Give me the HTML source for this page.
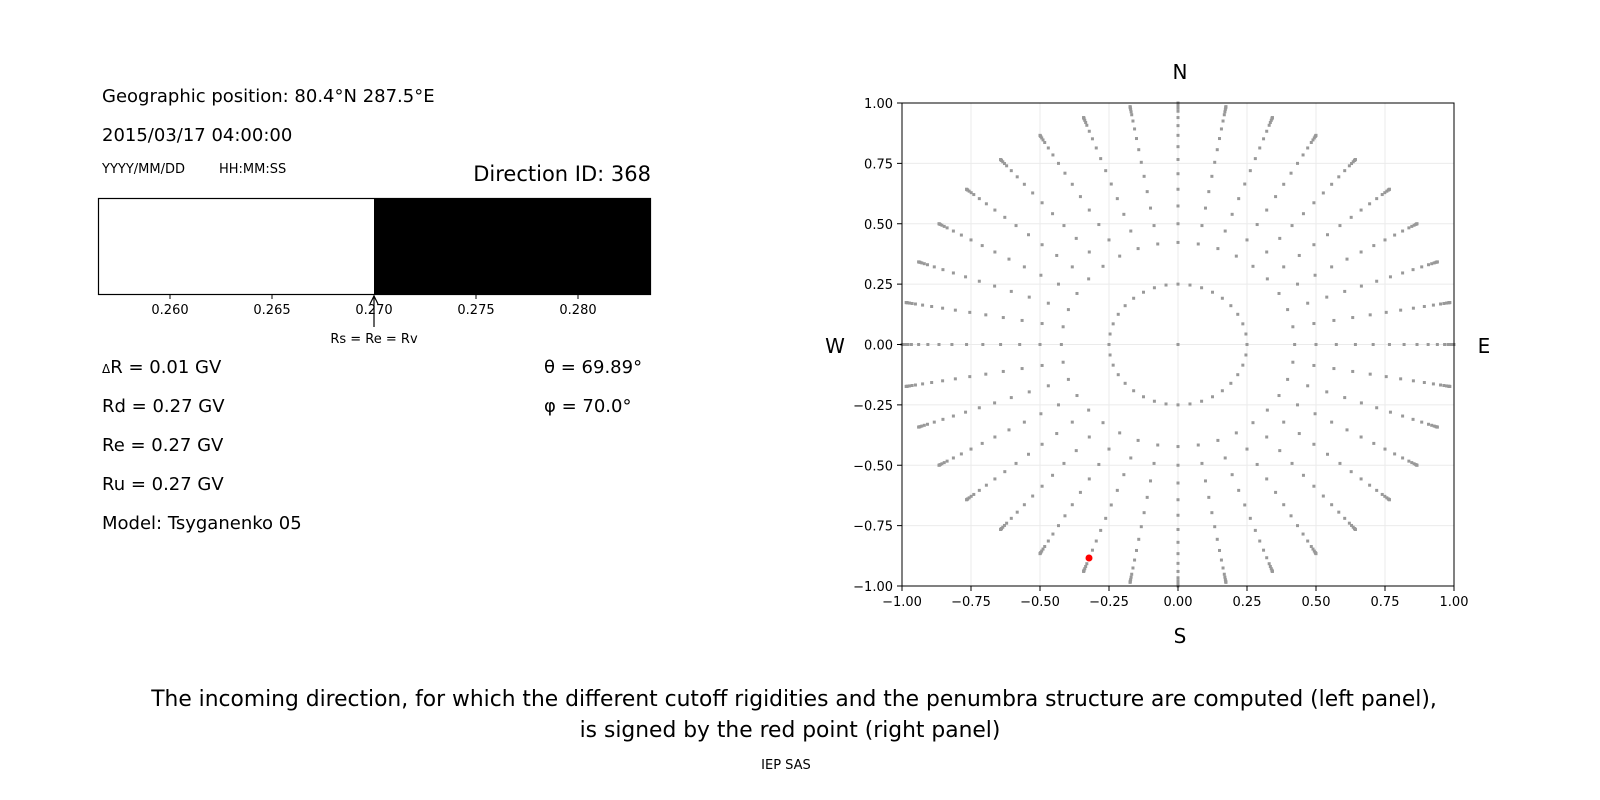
<!DOCTYPE html>
<html><head><meta charset="utf-8"><style>
body{margin:0;background:#fff;width:1600px;height:800px;overflow:hidden;font-family:"DejaVu Sans","Liberation Sans",sans-serif;}
svg{position:absolute;left:0;top:0}
</style></head><body>
<svg id="s" width="1600" height="800" xmlns="http://www.w3.org/2000/svg" font-family="DejaVu Sans, Liberation Sans, sans-serif">
<text x="102" y="102" font-size="18">Geographic position: 80.4°N 287.5°E</text>
<text x="102" y="141" font-size="18">2015/03/17 04:00:00</text>
<text x="102" y="173" font-size="13">YYYY/MM/DD</text>
<text x="219" y="173" font-size="13">HH:MM:SS</text>
<text x="651" y="181" font-size="21" text-anchor="end">Direction ID: 368</text>
<rect x="374" y="198" width="277" height="96" fill="#000"/>
<rect x="98.5" y="198.5" width="552" height="96" fill="none" stroke="#000" stroke-width="1.2"/>
<g font-size="13" text-anchor="middle">
<line x1="170" y1="294" x2="170" y2="299" stroke="#000"/><text x="170" y="314">0.260</text>
<line x1="272" y1="294" x2="272" y2="299" stroke="#000"/><text x="272" y="314">0.265</text>
<line x1="374" y1="294" x2="374" y2="299" stroke="#000"/><text x="374" y="314">0.270</text>
<line x1="476" y1="294" x2="476" y2="299" stroke="#000"/><text x="476" y="314">0.275</text>
<line x1="578" y1="294" x2="578" y2="299" stroke="#000"/><text x="578" y="314">0.280</text>
<line x1="374" y1="296" x2="374" y2="327" stroke="#000" stroke-width="1.2"/>
<path d="M370 304 L374 296 L378 304" fill="none" stroke="#000" stroke-width="1.2"/>
<text x="374" y="343">Rs = Re = Rv</text>
</g>
<g font-size="18">
<text x="102" y="373"><tspan font-size="12">Δ</tspan>R = 0.01 GV</text>
<text x="102" y="412">Rd = 0.27 GV</text>
<text x="102" y="451">Re = 0.27 GV</text>
<text x="102" y="490">Ru = 0.27 GV</text>
<text x="102" y="529">Model: Tsyganenko 05</text>
<text x="544" y="373">θ = 69.89°</text>
<text x="544" y="412">φ = 70.0°</text>
</g>
<g id="grid" stroke="#ebebeb" stroke-width="1"></g>
<g id="dots" fill="#999"></g>
<circle cx="1089" cy="558" r="3.5" fill="#f00"/>
<rect x="902" y="103" width="552" height="483" fill="none" stroke="#000" stroke-width="1"/>
<g id="ticks" font-size="13"></g>
<g font-size="20" text-anchor="middle">
<text x="1180" y="79">N</text>
<text x="1180" y="643">S</text>
<text x="835" y="353">W</text>
<text x="1484" y="353">E</text>
</g>
<g font-size="21.8" text-anchor="middle">
<text x="794" y="706">The incoming direction, for which the different cutoff rigidities and the penumbra structure are computed (left panel),</text>
<text x="790" y="737">is signed by the red point (right panel)</text>
</g>
<text x="786" y="769" font-size="13" text-anchor="middle">IEP SAS</text>
</svg>
<script>
var NS="http://www.w3.org/2000/svg";
function X(v){return 1178+v*276;}function Y(v){return 344.5-v*241.5;}
function el(p,t,a){var e=document.createElementNS(NS,t);for(var k in a)e.setAttribute(k,a[k]);document.getElementById(p).appendChild(e);return e;}
for(var i=-4;i<=4;i++){var v=i*0.25;
 el("grid","line",{x1:X(v),y1:103,x2:X(v),y2:586});
 el("grid","line",{x1:902,y1:Y(v),x2:1454,y2:Y(v)});
 var lab=v.toFixed(2).replace("-","−");
 el("ticks","line",{x1:X(v),y1:586,x2:X(v),y2:591,stroke:"#000"});
 el("ticks","text",{x:X(v),y:606,"text-anchor":"middle"}).textContent=lab;
 el("ticks","line",{x1:897,y1:Y(v),x2:902,y2:Y(v),stroke:"#000"});
 el("ticks","text",{x:893,y:Y(v)+5,"text-anchor":"end"}).textContent=lab;
}
function dot(r,a){el("dots","rect",{x:X(r*Math.sin(a))-1.5,y:Y(r*Math.cos(a))-1.5,width:3,height:3});}
dot(0,0);
for(var k=0;k<36;k++){var a=k*Math.PI/18;
 dot(0.25,a);
 var zs=[25,30,35,40,45,50,55,60,65,70,75,78,81,84,86,88,90];
 for(var j=0;j<zs.length;j++)dot(Math.sin(zs[j]*Math.PI/180),a);
}
</script>
</body></html>
